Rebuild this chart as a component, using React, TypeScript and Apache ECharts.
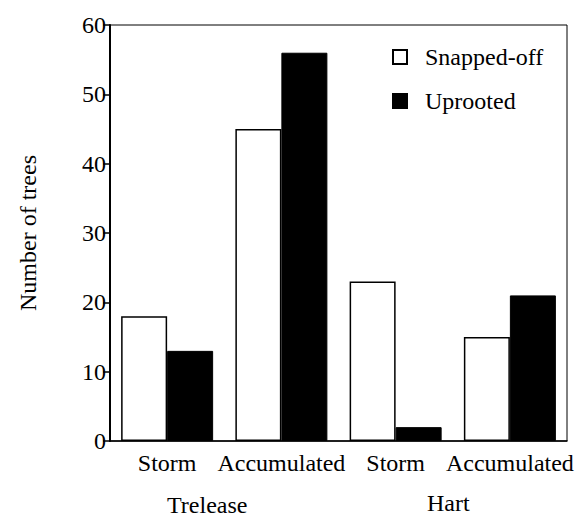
import React, { useEffect, useRef } from "react";
import * as echarts from "echarts";

const categories = ["Storm", "Accumulated", "Storm", "Accumulated"];
const snappedOff = [18, 45, 23, 15];
const uprooted = [13, 56, 2, 21];
const groupLabels = ["Trelease", "Hart"];
const yTicks = { min: 0, max: 60, interval: 10 };

const FONT = "'Liberation Serif', 'Times New Roman', serif";

export default function App() {
  const ref = useRef<HTMLDivElement>(null);
  useEffect(() => {
    if (!ref.current) return;
    const chart = echarts.init(ref.current, null, { renderer: "svg" });
    chart.setOption({
      animation: false,
      backgroundColor: "#ffffff",
      textStyle: { fontFamily: FONT, color: "#000" },
      grid: {
        left: 110,
        top: 25,
        right: 12,
        bottom: 79,
        show: true,
        borderColor: "#000",
        borderWidth: 1,
        containLabel: false,
      },
      legend: {
        orient: "vertical",
        left: 387,
        top: 40,
        itemWidth: 14,
        itemHeight: 14,
        itemGap: 20,
        icon: "rect",
        textStyle: { fontFamily: FONT, fontSize: 24, color: "#000", padding: [0, 0, 0, 13] },
        data: ["Snapped-off", "Uprooted"],
      },
      xAxis: {
        type: "category",
        data: categories,
        axisLine: { lineStyle: { color: "#000", width: 1.5 } },
        axisTick: { alignWithLabel: true, length: 7, lineStyle: { color: "#000", width: 1.5 } },
        axisLabel: { interval: 0, fontFamily: FONT, fontSize: 24, color: "#000", margin: 10 },
      },
      yAxis: {
        type: "value",
        min: yTicks.min,
        max: yTicks.max,
        interval: yTicks.interval,
        name: "Number of trees",
        nameLocation: "middle",
        nameGap: 70,
        nameTextStyle: { fontFamily: FONT, fontSize: 24, color: "#000" },
        splitLine: { show: false },
        axisLine: { show: true, lineStyle: { color: "#000", width: 2 } },
        axisTick: { show: true, length: 7, lineStyle: { color: "#000", width: 1.5 } },
        axisLabel: { fontFamily: FONT, fontSize: 24, color: "#000", margin: 4 },
      },
      series: [
        {
          name: "Snapped-off",
          type: "bar",
          data: snappedOff,
          barWidth: 46,
          barGap: "0%",
          itemStyle: { color: "#fff", borderColor: "#000", borderWidth: 1.5 },
        },
        {
          name: "Uprooted",
          type: "bar",
          data: uprooted,
          barWidth: 46,
          itemStyle: { color: "#000", borderColor: "#000", borderWidth: 1 },
        },
      ],
      graphic: [
        {
          type: "text",
          left: 167,
          top: 493,
          style: { text: groupLabels[0], font: `24px ${FONT}`, fill: "#000" },
        },
        {
          type: "text",
          left: 427,
          top: 491,
          style: { text: groupLabels[1], font: `24px ${FONT}`, fill: "#000" },
        },
      ],
    });
    return () => chart.dispose();
  }, []);
  return (
    <div
      ref={ref}
      style={{ position: "absolute", left: 0, top: 0, width: 579, height: 520 }}
    />
  );
}
